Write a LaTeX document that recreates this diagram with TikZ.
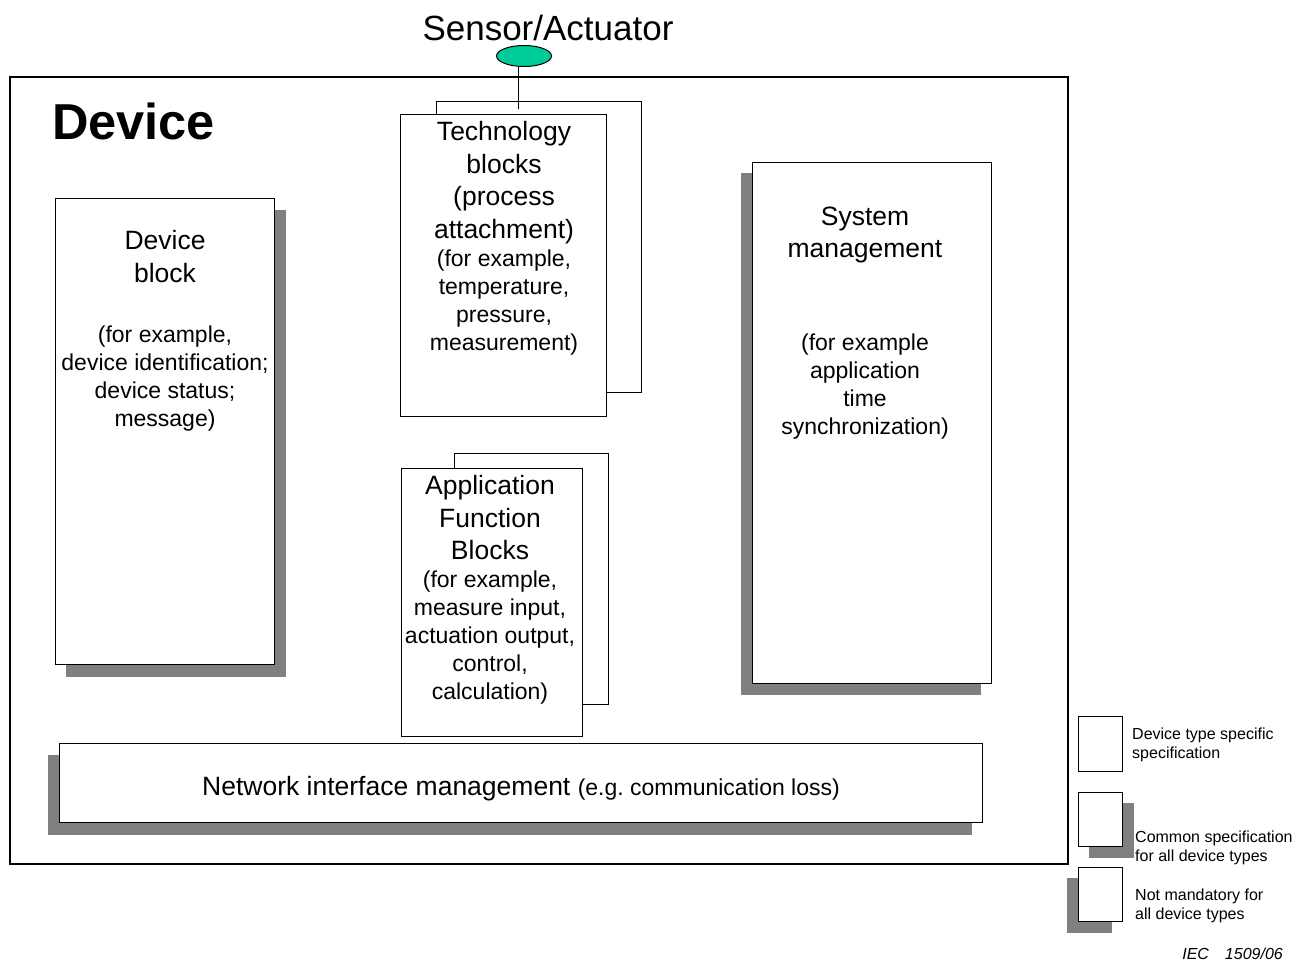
\documentclass[tikz,border=0pt]{standalone}
\usepackage{fontspec}
\setmainfont{Liberation Sans}
\usetikzlibrary{fit,backgrounds,shapes.geometric}
\definecolor{shadowgray}{HTML}{808080}
\definecolor{sensorgreen}{HTML}{00CC99}

\begin{document}
\begin{tikzpicture}[x=1pt,y=-1pt,
  blk/.style={draw,fill=white,line width=1pt,inner sep=0pt},
  bigtxt/.style={font=\fontsize{26.5}{32.5}\selectfont,align=center,inner sep=0pt,anchor=north},
  smalltxt/.style={font=\fontsize{23}{28}\selectfont,align=center,inner sep=0pt,anchor=north},
  legtxt/.style={font=\fontsize{16}{19}\selectfont,align=left,inner sep=0pt,anchor=west}]
\useasboundingbox (0,0) rectangle (1308,964);

% device frame and sensor
\node[draw,line width=1.3pt,inner sep=0pt,fit={(10,77) (1068,864)}] (device) {};
\node[font=\fontsize{50.5}{60}\selectfont\bfseries,anchor=west,inner sep=0pt] (devicelbl) at (52,121) {Device};
\node[ellipse,draw,fill=sensorgreen,line width=1pt,minimum width=55pt,minimum height=21pt,inner sep=0pt] (sensor) at (524,56) {};
\node[font=\fontsize{35}{40}\selectfont,inner sep=0pt] (sensorlbl) at (548,28) {Sensor/Actuator};

% blocks
\node[blk,fit={(55,198) (274,664)}] (devblk) {};
\node[blk,fit={(436,101) (641,392)}] (techback) {};
\node[blk,fit={(400,114) (606,416)}] (tech) {};
\node[blk,fit={(454,453) (608,704)}] (appback) {};
\node[blk,fit={(401,468) (582,736)}] (app) {};
\node[blk,fit={(752,162) (991,683)}] (sysmgt) {};
\node[blk,fit={(59,743) (982,822)}] (netmgt) {};

\coordinate (techtap) at (518,109);
\draw[line width=1pt] (techtap |- sensor.south) -- (techtap);

% texts
\node[bigtxt] (devblktitle) at (165,230.5) {Device\\block};
\node[smalltxt] (devblknote) at (165,325.5) {(for example,\\device identification;\\device status;\\message)};
\node[bigtxt] (techtitle) at (504,121.5) {Technology\\blocks\\(process\\attachment)};
\node[smalltxt] (technote) at (504,249.5) {(for example,\\temperature,\\pressure,\\measurement)};
\node[bigtxt] (apptitle) at (490,475.5) {Application\\Function\\Blocks};
\node[smalltxt] (appnote) at (490,570.5) {(for example,\\measure input,\\actuation output,\\control,\\calculation)};
\node[bigtxt] (systitle) at (865,206.5) {System\\management};
\node[smalltxt] (sysnote) at (865,333.5) {(for example\\application\\time\\synchronization)};
\node[inner sep=0pt,anchor=base] (nettxt) at (521,795)
  {\fontsize{26.5}{32}\selectfont Network interface management {\fontsize{23}{28}\selectfont(e.g.\ communication loss)}};

% legend
\node[blk,fit={(1078,716) (1122,771)}] (legspec) {};
\node[blk,fit={(1078,792) (1122,846)}] (legcommon) {};
\node[blk,fit={(1078,867) (1122,921)}] (legoption) {};
\node[legtxt] (legspectxt) at (1132,745) {Device type specific\\specification};
\node[legtxt] (legcommontxt) at (1135,848) {Common specification\\for all device types};
\node[legtxt] (legoptiontxt) at (1135,906) {Not mandatory for\\all device types};
\node[font=\fontsize{16}{19}\selectfont\itshape,anchor=east,inner sep=0pt] (ieclbl) at (1283,954) {IEC\hspace{1em}1509/06};

% shadows
\begin{scope}[on background layer]
\fill[shadowgray] ([shift={(11,12)}]devblk.north west) rectangle ([shift={(11,12)}]devblk.south east);
\fill[shadowgray] ([shift={(-11,11)}]sysmgt.north west) rectangle ([shift={(-11,11)}]sysmgt.south east);
\fill[shadowgray] ([shift={(-11,12)}]netmgt.north west) rectangle ([shift={(-11,12)}]netmgt.south east);
\fill[shadowgray] ([shift={(11,11)}]legcommon.north west) rectangle ([shift={(11,11)}]legcommon.south east);
\fill[shadowgray] ([shift={(-11,11)}]legoption.north west) rectangle ([shift={(-11,11)}]legoption.south east);
\end{scope}
\end{tikzpicture}
\end{document}
